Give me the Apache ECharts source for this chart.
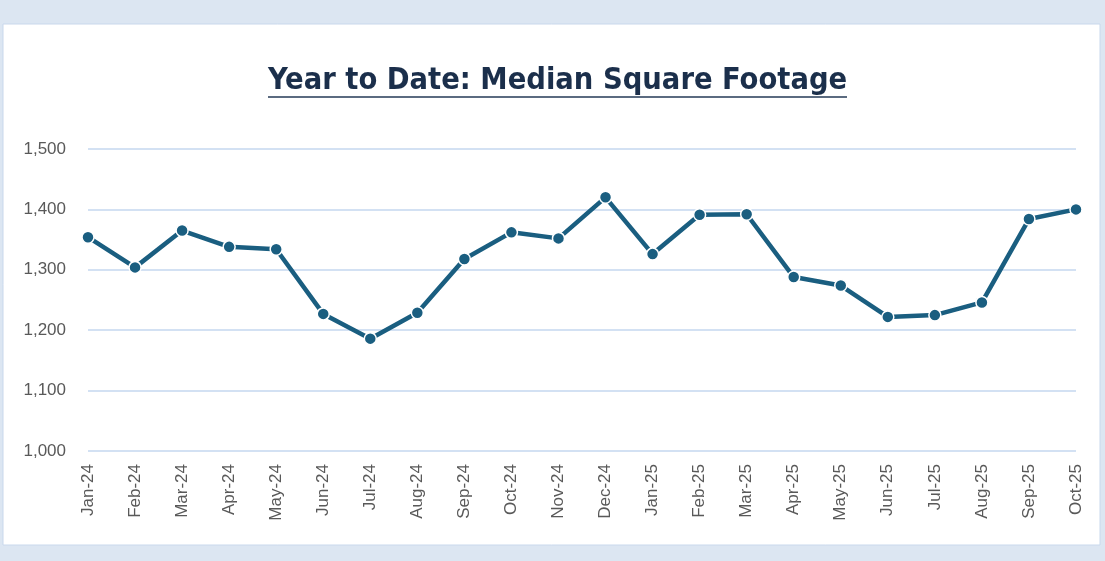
<!DOCTYPE html>
<html>
<head>
<meta charset="utf-8">
<script src="https://cdn.jsdelivr.net/npm/echarts@6/dist/echarts.min.js"></script>
<style>
html, body { margin:0; padding:0; background:#dce6f2; }
#chart { width:1105px; height:561px; }
</style>
</head>
<body>
<div id="chart"></div>
<script>
// data
var months = ['Jan-24','Feb-24','Mar-24','Apr-24','May-24','Jun-24','Jul-24','Aug-24','Sep-24','Oct-24','Nov-24','Dec-24',
              'Jan-25','Feb-25','Mar-25','Apr-25','May-25','Jun-25','Jul-25','Aug-25','Sep-25','Oct-25'];
var medianSqft = [1354,1304,1365,1338,1334,1227,1186,1229,1318,1362,1352,1420,
                  1326,1391,1392,1288,1274,1222,1225,1246,1384,1400];
var yTicks = [1000,1100,1200,1300,1400,1500];

var chart = echarts.init(document.getElementById('chart'));
var option = {
    backgroundColor: '#dce6f2',
    animation: false,
    title: {
        text: 'Year to Date: Median Square Footage',
        left: 263,
        top: 61,
        textStyle: {
            fontFamily: "'DejaVu Sans Condensed', Roboto, sans-serif",
            fontWeight: 'bold',
            fontSize: 30.5,
            color: '#1b2f4b'
        }
    },
    graphic: [
        {
            type: 'rect',
            z: -10,
            shape: { x: 3, y: 24, width: 1097, height: 521 },
            style: { fill: '#ffffff', stroke: '#c9d8ec', lineWidth: 1 }
        },
        {
            type: 'line',
            shape: { x1: 268, y1: 97, x2: 847, y2: 97 },
            style: { stroke: '#5b6b80', lineWidth: 2 }
        }
    ],
    grid: { left: 88, right: 29, top: 149, height: 302 },
    xAxis: {
        type: 'category',
        data: months,
        boundaryGap: false,
        axisLine: { show: false },
        axisTick: { show: false },
        axisLabel: {
            rotate: 90,
            margin: 13,
            fontFamily: 'Liberation Sans',
            fontSize: 17,
            color: '#595959'
        }
    },
    yAxis: {
        type: 'value',
        min: yTicks[0],
        max: yTicks[yTicks.length - 1],
        interval: 100,
        axisLabel: {
            margin: 22,
            fontFamily: 'Liberation Sans',
            fontSize: 17,
            color: '#595959',
            formatter: function (v) { return v.toLocaleString('en-US'); }
        },
        splitLine: { lineStyle: { color: '#d3e1f3', width: 2 } }
    },
    series: [
        {
            name: 'Median Square Footage',
            type: 'line',
            data: medianSqft,
            symbol: 'circle',
            symbolSize: 12,
            lineStyle: { color: '#1a5e80', width: 4.5 },
            itemStyle: { color: '#1a5e80', borderColor: '#ffffff', borderWidth: 1.5 }
        }
    ]
};
chart.setOption(option);
</script>
</body>
</html>
